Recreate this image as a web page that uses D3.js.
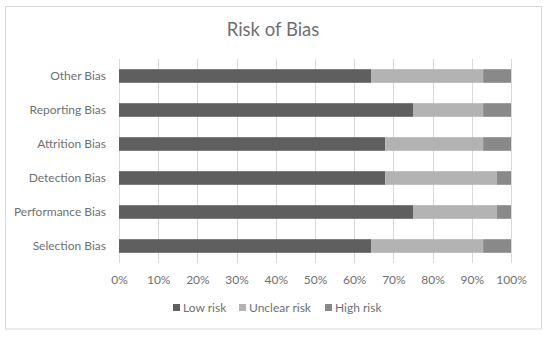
<!DOCTYPE html>
<html>
<head>
<meta charset="utf-8">
<script src="https://cdn.jsdelivr.net/npm/d3@7"></script>
<style>
  body { margin: 0; background: #fff; }
  text { font-family: Lato, "Open Sans", sans-serif; fill: #707070; }
</style>
</head>
<body>
<div id="chart"></div>
<script>
// ==== Data ====
const categories = ["Selection Bias", "Performance Bias", "Detection Bias", "Attrition Bias", "Reporting Bias", "Other Bias"];
const lowRisk     = [64.3, 75.0, 67.9, 67.9, 75.0, 64.3];
const unclearRisk = [28.6, 21.4, 28.5, 25.0, 17.9, 28.6];
const highRisk    = [7.1, 3.6, 3.6, 7.1, 7.1, 7.1];
const seriesNames = ["Low risk", "Unclear risk", "High risk"];
const seriesColors = ["#5f5f5f", "#b3b3b3", "#898989"];
const xTicks = [0, 10, 20, 30, 40, 50, 60, 70, 80, 90, 100];

const rows = categories.map((c, i) => ({
    category: c,
    "Low risk": lowRisk[i],
    "Unclear risk": unclearRisk[i],
    "High risk": highRisk[i]
}));

const W = 550, H = 337;
const margin = { top: 59, right: 39, bottom: 74, left: 119 };
const width = W - margin.left - margin.right;
const height = H - margin.top - margin.bottom;

const svg = d3.select("#chart").append("svg")
    .attr("width", W)
    .attr("height", H);

// outer border
svg.append("rect")
    .attr("x", 5.5).attr("y", 6.5)
    .attr("width", 536).attr("height", 322.5)
    .attr("fill", "#fff")
    .attr("stroke", "#d9d9d9");

// title
svg.append("text")
    .attr("x", 273).attr("y", 36)
    .attr("text-anchor", "middle")
    .style("font-size", "18.5px")
    .text("Risk of Bias");

const g = svg.append("g").attr("transform", `translate(${margin.left},${margin.top})`);

const x = d3.scaleLinear().domain([0, 100]).range([0, width]);
const y = d3.scaleBand()
    .domain(categories.slice().reverse())
    .range([0, height])
    .paddingInner(0.6)
    .paddingOuter(0.3);

// gridlines
g.selectAll("line.grid")
    .data(xTicks)
    .enter()
    .append("line")
    .attr("class", "grid")
    .attr("x1", d => Math.round(x(d)) + 0.5)
    .attr("x2", d => Math.round(x(d)) + 0.5)
    .attr("y1", 0)
    .attr("y2", height)
    .attr("stroke", "#d9d9d9");

// bars
const stack = d3.stack().keys(seriesNames);
const layers = stack(rows);

const color = d3.scaleOrdinal().domain(seriesNames).range(seriesColors);

g.selectAll("g.layer")
    .data(layers)
    .enter()
    .append("g")
    .attr("class", "layer")
    .attr("fill", d => color(d.key))
    .selectAll("rect")
    .data(d => d)
    .enter()
    .append("rect")
    .attr("x", d => x(d[0]))
    .attr("y", d => y(d.data.category))
    .attr("width", d => x(Math.min(d[1], 100)) - x(d[0]))
    .attr("height", y.bandwidth());

// x axis labels
const xAxis = g.append("g")
    .attr("transform", `translate(0,${height})`)
    .call(d3.axisBottom(x).tickValues(xTicks).tickFormat(d => d + "%").tickSize(0).tickPadding(12));
xAxis.select(".domain").remove();
xAxis.selectAll("text").style("font-size", "12px").attr("fill", "#707070");

// y axis labels
const yAxis = g.append("g")
    .call(d3.axisLeft(y).tickSize(0).tickPadding(13));
yAxis.select(".domain").remove();
yAxis.selectAll("text").style("font-size", "12px").attr("fill", "#707070");

// legend
const legendX = [173, 239, 325];
const legend = svg.append("g").attr("transform", "translate(0,308)");
seriesNames.forEach((name, i) => {
    legend.append("rect")
        .attr("x", legendX[i]).attr("y", -4)
        .attr("width", 7).attr("height", 7)
        .attr("fill", seriesColors[i]);
    legend.append("text")
        .attr("x", legendX[i] + 10).attr("y", 4)
        .style("font-size", "12px")
        .text(name);
});
</script>
</body>
</html>
